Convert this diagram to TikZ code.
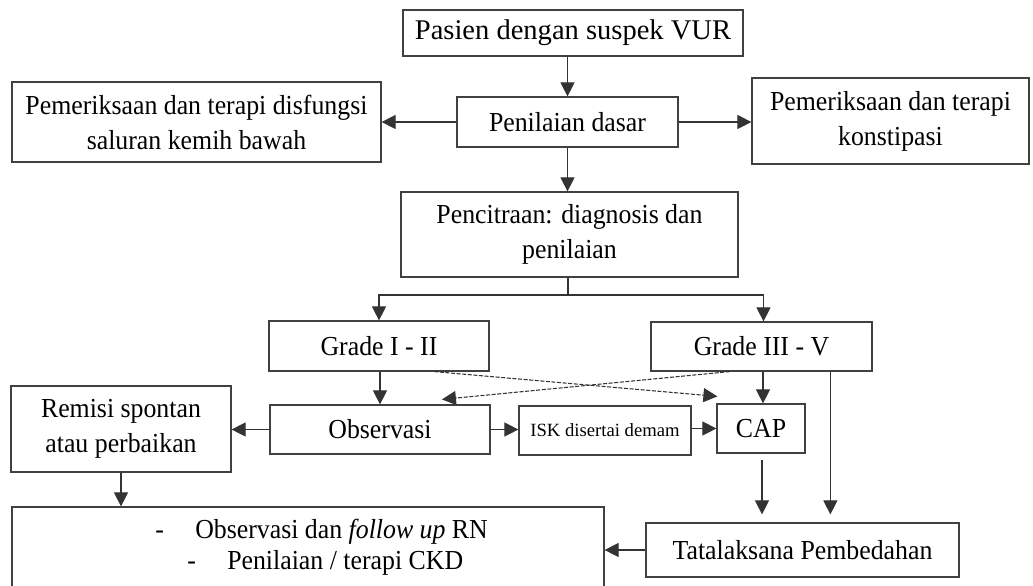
\documentclass[tikz,border=0pt]{standalone}
\usepackage{fontspec}
\setmainfont{Liberation Serif}
\newfontfamily\narrowserif{Liberation Serif}[FakeStretch=0.94]
\usetikzlibrary{arrows.meta,calc}
\begin{document}
\begin{tikzpicture}[x=0.75pt,y=-0.75pt,
  box/.style={draw=black!75,line width=0.9pt,inner sep=0pt,align=center,
    font=\narrowserif\fontsize{20.6}{26.3}\selectfont},
  sz/.style 2 args={minimum width={#1*0.75pt},minimum height={#2*0.75pt}},
  arr/.style={draw=black!80,line width=0.8pt,-{Triangle[length=10.5pt,width=10.5pt]}},
  dasharr/.style={arr,dash pattern=on 3pt off 1.2pt},
  txt/.style={inner sep=0pt,font=\narrowserif\fontsize{20.6}{26.3}\selectfont}]
\useasboundingbox (0,0) rectangle (1033,586);

% boxes
\node[box,sz={340}{46},font=\fontsize{21.4}{26.3}\selectfont] (pasien) at (573,33) {Pasien dengan suspek VUR};
\node[box,sz={221}{50}] (dasar) at (567.5,122) {Penilaian dasar};
\node[box,sz={369}{80}] (lutd) at (196.5,122) {Pemeriksaan dan terapi disfungsi\\saluran kemih bawah};
\node[box,sz={277}{86}] (konst) at (890.5,121) {Pemeriksaan dan terapi\\konstipasi};
\node[box,sz={337}{85}] (citra) at (569.5,234.5) {Pencitraan: diagnosis dan\\penilaian};
\node[box,sz={220}{50}] (g12) at (379,346) {Grade I - II};
\node[box,sz={221}{49}] (g35) at (761.5,346.5) {Grade III - V};
\node[box,sz={220}{49}] (obs) at (380,429.5) {Observasi};
\node[box,sz={172}{49},font=\fontsize{14}{17}\selectfont] (isk) at (605,430.5) {ISK disertai demam};
\node[box,sz={88}{49}] (cap) at (761,428.5) {CAP};
\node[box,sz={220}{86}] (remisi) at (121,429) {Remisi spontan\\atau perbaikan};
\node[box,sz={313}{54}] (bedah) at (802.5,550) {Tatalaksana Pembedahan};
\node[box,sz={592}{90}] (fu) at (308,552) {};

% list inside the follow-up box
\node[txt,anchor=base west] (d1) at (155,538) {-};
\node[txt,anchor=base west] (l1) at (195,538) {Observasi dan \textit{follow up} RN};
\node[txt,anchor=base west] (d2) at (187,569) {-};
\node[txt,anchor=base west] (l2) at (227,569) {Penilaian / terapi CKD};

% connectors
\draw[arr] (pasien.south -| dasar.north) -- (dasar.north);
\draw[arr] (dasar.west) -- (lutd.east);
\draw[arr] (dasar.east) -- (konst.west |- dasar.east);
\draw[arr] (dasar.south) -- (dasar.south |- citra.north);
\coordinate (split) at (568,295);
\draw[draw=black!80,line width=0.8pt] (citra.south -| split) -- (split);
\draw[arr] (split) -| (g12.north);
\coordinate (g35top) at ($(g35.north)+(2,0)$);
\draw[arr] (split) -| (g35top);
\draw[arr] (g12.south -| obs.north) -- (obs.north);
\coordinate (g35bot) at ($(g35.south)+(1.5,0)$);
\draw[arr] (g35bot) -- (g35bot |- cap.north);

\coordinate (capin) at ($(cap.north west)+(1,-7)$);
\coordinate (obsin) at ($(obs.north west)!0.78!(obs.north east)+(0,-5)$);
\draw[dasharr] ($(g12.south west)!0.75!(g12.south east)$) -- (capin);
\draw[dasharr] ($(g35.south west)!0.357!(g35.south east)$) -- (obsin);

\draw[arr] (obs.west) -- (remisi.east |- obs.west);
\draw[arr] (obs.east) -- (isk.west |- obs.east);
\draw[arr] (isk.east |- cap.west) -- (cap.west);
\draw[arr] (remisi.south) -- (remisi.south |- fu.north);

\coordinate (capbot) at ($(cap.south)+(1,0)$);
\draw[arr,shorten <=4.5pt,shorten >=6pt] (capbot) -- (capbot |- bedah.north);
\coordinate (g35r) at ($(g35.south west)!0.81!(g35.south east)$);
\draw[arr,shorten >=6pt] (g35r) -- (g35r |- bedah.north);
\draw[arr] (bedah.west) -- (fu.east |- bedah.west);
\end{tikzpicture}
\end{document}
